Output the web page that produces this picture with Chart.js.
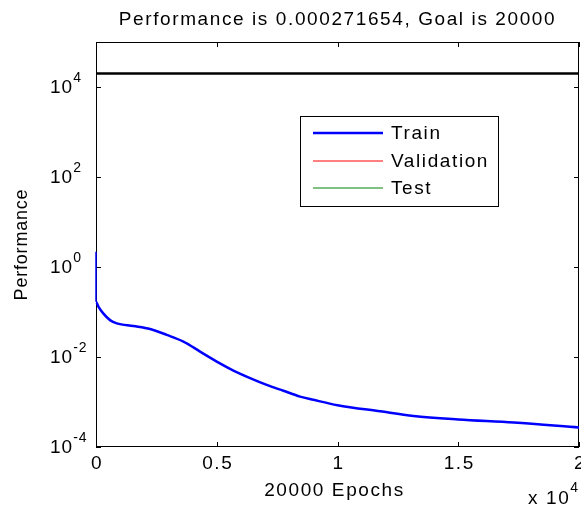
<!DOCTYPE html>
<html>
<head>
<meta charset="utf-8">
<script src="https://cdn.jsdelivr.net/npm/chart.js@4.4.0/dist/chart.umd.min.js"></script>
<style>
  html, body { margin: 0; padding: 0; background: #fff; }
  canvas { display: block; }
</style>
</head>
<body>
<canvas id="perfChart" width="581" height="506"></canvas>
<script>
// values
const epochs = [0, 0, 100, 300, 580, 860, 1550, 2240, 2930, 3620, 4310, 5000, 5690,
  6380, 7070, 7760, 8450, 9000, 10000, 11770, 13150, 15000, 17300, 20000];
const trainPerf = [2.19, 0.17, 0.132, 0.093, 0.066, 0.056, 0.049, 0.042, 0.031, 0.022,
  0.0132, 0.0079, 0.0050, 0.0034, 0.0024, 0.00178, 0.00132, 0.00112, 0.00085,
  0.00062, 0.00049, 0.00041, 0.00035, 0.000272];
const goalEpochs = [0, 20000];
const goalPerf = [20000, 20000];
const yTickExps = [-4, -2, 0, 2, 4];
const xTicks = [0, 5000, 10000, 15000, 20000];
const xTickLabels = ['0', '0.5', '1', '1.5', '2'];
const seriesNames = ['Train', 'Validation', 'Test'];
const seriesColors = ['#0000ff', '#ff0000', '#008000'];

const FONT = '"Liberation Sans", Arial, sans-serif';
const SPACING = '1.6px';

function pts(xs, ys) {
    return xs.map(function(x, i) { return { x: x, y: ys[i] }; });
}

function setFont(ctx, size, spacing) {
    ctx.font = size + 'px ' + FONT;
    ctx.letterSpacing = spacing || '0px';
}

// axes box and inside ticks, drawn under the lines
const matlabAxes = {
    id: 'matlabAxes',
    beforeDatasetsDraw: function(chart) {
        const ctx = chart.ctx;
        const a = chart.chartArea;
        const xs = chart.scales.x;
        const ys = chart.scales.y;
        ctx.save();
        ctx.strokeStyle = '#000';
        ctx.lineWidth = 1;
        ctx.strokeRect(a.left + 0.5, a.top + 0.5, a.right - a.left - 1, a.bottom - a.top - 1);
        ctx.beginPath();
        xTicks.forEach(function(v) {
            const px = Math.round(xs.getPixelForValue(v)) + 0.5;
            ctx.moveTo(px, a.bottom); ctx.lineTo(px, a.bottom - 5);
            ctx.moveTo(px, a.top); ctx.lineTo(px, a.top + 5);
        });
        yTickExps.forEach(function(e) {
            const py = Math.round(ys.getPixelForValue(Math.pow(10, e))) + 0.5;
            ctx.moveTo(a.left, py); ctx.lineTo(a.left + 5, py);
            ctx.moveTo(a.right, py); ctx.lineTo(a.right - 5, py);
        });
        ctx.stroke();
        ctx.restore();
    }
};

// labels with superscripts, titles and legend
const matlabText = {
    id: 'matlabText',
    afterDraw: function(chart) {
        const ctx = chart.ctx;
        const a = chart.chartArea;
        const xs = chart.scales.x;
        const ys = chart.scales.y;
        ctx.save();
        ctx.fillStyle = '#000';

        // y tick labels 10^n
        ctx.textBaseline = 'middle';
        ctx.textAlign = 'left';
        yTickExps.forEach(function(e) {
            const py = ys.getPixelForValue(Math.pow(10, e));
            setFont(ctx, 19, '1px');
            ctx.fillText('10', 50, py + 1);
            const w = ctx.measureText('10').width;
            setFont(ctx, 14, '1px');
            ctx.fillText(String(e), 50 + w, py - 9);
        });

        // x tick labels
        setFont(ctx, 19, SPACING);
        ctx.textAlign = 'center';
        xTicks.forEach(function(v, i) {
            ctx.fillText(xTickLabels[i], xs.getPixelForValue(v) + 1, 464);
        });

        // x 10^4 multiplier
        ctx.textAlign = 'left';
        ctx.textBaseline = 'alphabetic';
        ctx.fillText('x 10', 528, 504);
        const mw = ctx.measureText('x 10').width;
        setFont(ctx, 14, '1px');
        ctx.fillText('4', 528 + mw, 492);

        // title and axis titles
        setFont(ctx, 19, SPACING);
        ctx.textAlign = 'center';
        ctx.textBaseline = 'middle';
        ctx.fillText('Performance is 0.000271654, Goal is 20000', (a.left + a.right) / 2, 20);
        ctx.fillText('20000 Epochs', (a.left + a.right) / 2 - 3, 491);
        ctx.save();
        ctx.translate(22, (a.top + a.bottom) / 2);
        ctx.rotate(-Math.PI / 2);
        setFont(ctx, 18, '0.8px');
        ctx.fillText('Performance', 0, 0);
        ctx.restore();

        // legend
        ctx.fillStyle = '#fff';
        ctx.fillRect(300, 116, 198, 90);
        ctx.strokeStyle = '#000';
        ctx.lineWidth = 1;
        ctx.strokeRect(300.5, 116.5, 198, 90);
        setFont(ctx, 19, SPACING);
        ctx.textAlign = 'left';
        const rows = [133, 161, 188];
        seriesNames.forEach(function(name, i) {
            ctx.strokeStyle = seriesColors[i];
            ctx.lineWidth = i === 0 ? 2.5 : 1;
            ctx.beginPath();
            ctx.moveTo(313, rows[i]); ctx.lineTo(383, rows[i]);
            ctx.stroke();
            ctx.fillStyle = '#000';
            ctx.fillText(name, 391, rows[i] + 1);
        });
        ctx.restore();
    }
};

const ctx = document.getElementById('perfChart').getContext('2d');
const perfChart = new Chart(ctx, {
    type: 'line',
    data: {
        datasets: [{
            label: 'Goal',
            data: pts(goalEpochs, goalPerf),
            borderColor: '#000',
            borderWidth: 2.5,
            pointRadius: 0
        }, {
            label: 'Train',
            data: pts(epochs, trainPerf),
            borderColor: '#0000ff',
            borderWidth: 2.5,
            pointRadius: 0,
            cubicInterpolationMode: 'monotone',
            // first epoch drop is drawn thin, like the reference
            segment: {
                borderWidth: function(c) { return c.p0DataIndex === 0 ? 1.5 : undefined; }
            },
            clip: { left: 2, top: 0, right: 0, bottom: 0 }
        }]
    },
    options: {
        responsive: false,
        animation: false,
        devicePixelRatio: 1,
        layout: { padding: { left: 96, right: 2, top: 42, bottom: 59 } },
        scales: {
            x: { type: 'linear', display: false, min: 0, max: 20000 },
            y: { type: 'logarithmic', display: false, min: 1e-4, max: 1e5 }
        },
        plugins: {
            legend: { display: false },
            tooltip: { enabled: false }
        }
    },
    plugins: [matlabAxes, matlabText]
});
</script>
</body>
</html>
